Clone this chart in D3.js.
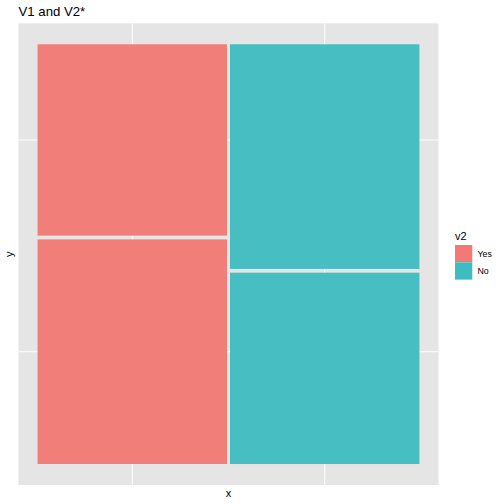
<!DOCTYPE html>
<html><head><meta charset="utf-8">
<script src="https://cdn.jsdelivr.net/npm/d3@7"></script>
<style>body{margin:0;background:#fff}svg{display:block}text{font-family:"Liberation Sans",Arial,sans-serif}</style>
</head><body><div id="chart"></div>
<script>
// Data
const v1Levels = ["A", "B"];          // columns (x)
const v1Widths = [0.5, 0.5];          // column proportions
const v2Levels = ["Yes", "No"];       // fill legend
const colFill = ["Yes", "No"];        // fill of each column
const segBottom = [0.54, 0.46];       // bottom segment share per column
const segTop = [0.46, 0.54];          // top segment share per column
const colors = ["#F27A76", "#40BCC0"];
const title = "V1 and V2*";

const W = 504, H = 504;
const panel = {l: 18.5, r: 438.5, t: 23.3, b: 485};
const gapX = 0.008, gapY = 0.009;

const svg = d3.select("#chart").append("svg").attr("width", W).attr("height", H);

const xMax = 1 + gapX, yMax = 1 + gapY;
const x = d3.scaleLinear().domain([-0.05 * xMax, 1.05 * xMax]).range([panel.l, panel.r]);
const y = d3.scaleLinear().domain([-0.05 * yMax, 1.05 * yMax]).range([panel.b, panel.t]);
const color = d3.scaleOrdinal().domain(v2Levels).range(colors);

// build rects
const rects = [];
let cx = 0;
v1Levels.forEach((lv, i) => {
  const x0 = cx, x1 = cx + v1Widths[i];
  const yb0 = 0, yb1 = segBottom[i];
  const yt0 = segBottom[i] + gapY, yt1 = 1 + gapY;
  rects.push({x0, x1, y0: yb0, y1: yb1, fill: colFill[i], col: i});
  rects.push({x0, x1, y0: yt0, y1: yt1, fill: colFill[i], col: i});
  cx = x1 + gapX;
});

// panel background
svg.append("rect").attr("x", panel.l).attr("y", panel.t)
  .attr("width", panel.r - panel.l).attr("height", panel.b - panel.t).attr("fill", "#E5E5E5");

// breaks: x at column centers, y at first column segment centers
const xBreaks = v1Levels.map((d, i) => (rects[i * 2].x0 + rects[i * 2].x1) / 2);
const yBreaks = [rects[0], rects[1]].map(r => (r.y0 + r.y1) / 2);

svg.append("g").selectAll("line").data(xBreaks).join("line")
  .attr("x1", d => x(d)).attr("x2", d => x(d)).attr("y1", panel.t).attr("y2", panel.b)
  .attr("stroke", "#fff").attr("stroke-width", 1.07);
svg.append("g").selectAll("line").data(yBreaks).join("line")
  .attr("y1", d => y(d)).attr("y2", d => y(d)).attr("x1", panel.l).attr("x2", panel.r)
  .attr("stroke", "#fff").attr("stroke-width", 1.07);

svg.append("g").selectAll("rect").data(rects).join("rect")
  .attr("x", d => x(d.x0)).attr("width", d => x(d.x1) - x(d.x0))
  .attr("y", d => y(d.y1)).attr("height", d => y(d.y0) - y(d.y1))
  .attr("fill", d => color(d.fill)).attr("fill-opacity", 0.97);

// title
svg.append("text").attr("x", panel.l).attr("y", 16).attr("font-size", 13.2).attr("fill", "#000").text(title);
// axis titles
svg.append("text").attr("x", (panel.l + panel.r) / 2).attr("y", 497).attr("text-anchor", "middle")
  .attr("font-size", 11).attr("fill", "#000").text("x");
svg.append("text").attr("transform", `translate(13,${(panel.t + panel.b) / 2}) rotate(-90)`)
  .attr("text-anchor", "middle").attr("font-size", 11).attr("fill", "#000").text("y");

// legend
const lg = svg.append("g").attr("transform", "translate(455,0)");
lg.append("text").attr("x", 0).attr("y", 240).attr("font-size", 11).attr("fill", "#000").text("v2");
const keyH = 17.3;
v2Levels.forEach((lv, i) => {
  const ky = 245 + i * keyH;
  lg.append("rect").attr("x", 0).attr("y", ky).attr("width", 17.3).attr("height", keyH)
    .attr("fill", color(lv));
  lg.append("text").attr("x", 22.5).attr("y", ky + keyH / 2 + 3.2).attr("font-size", 8.8).attr("fill", "#000").text(lv);
});
</script></body></html>
